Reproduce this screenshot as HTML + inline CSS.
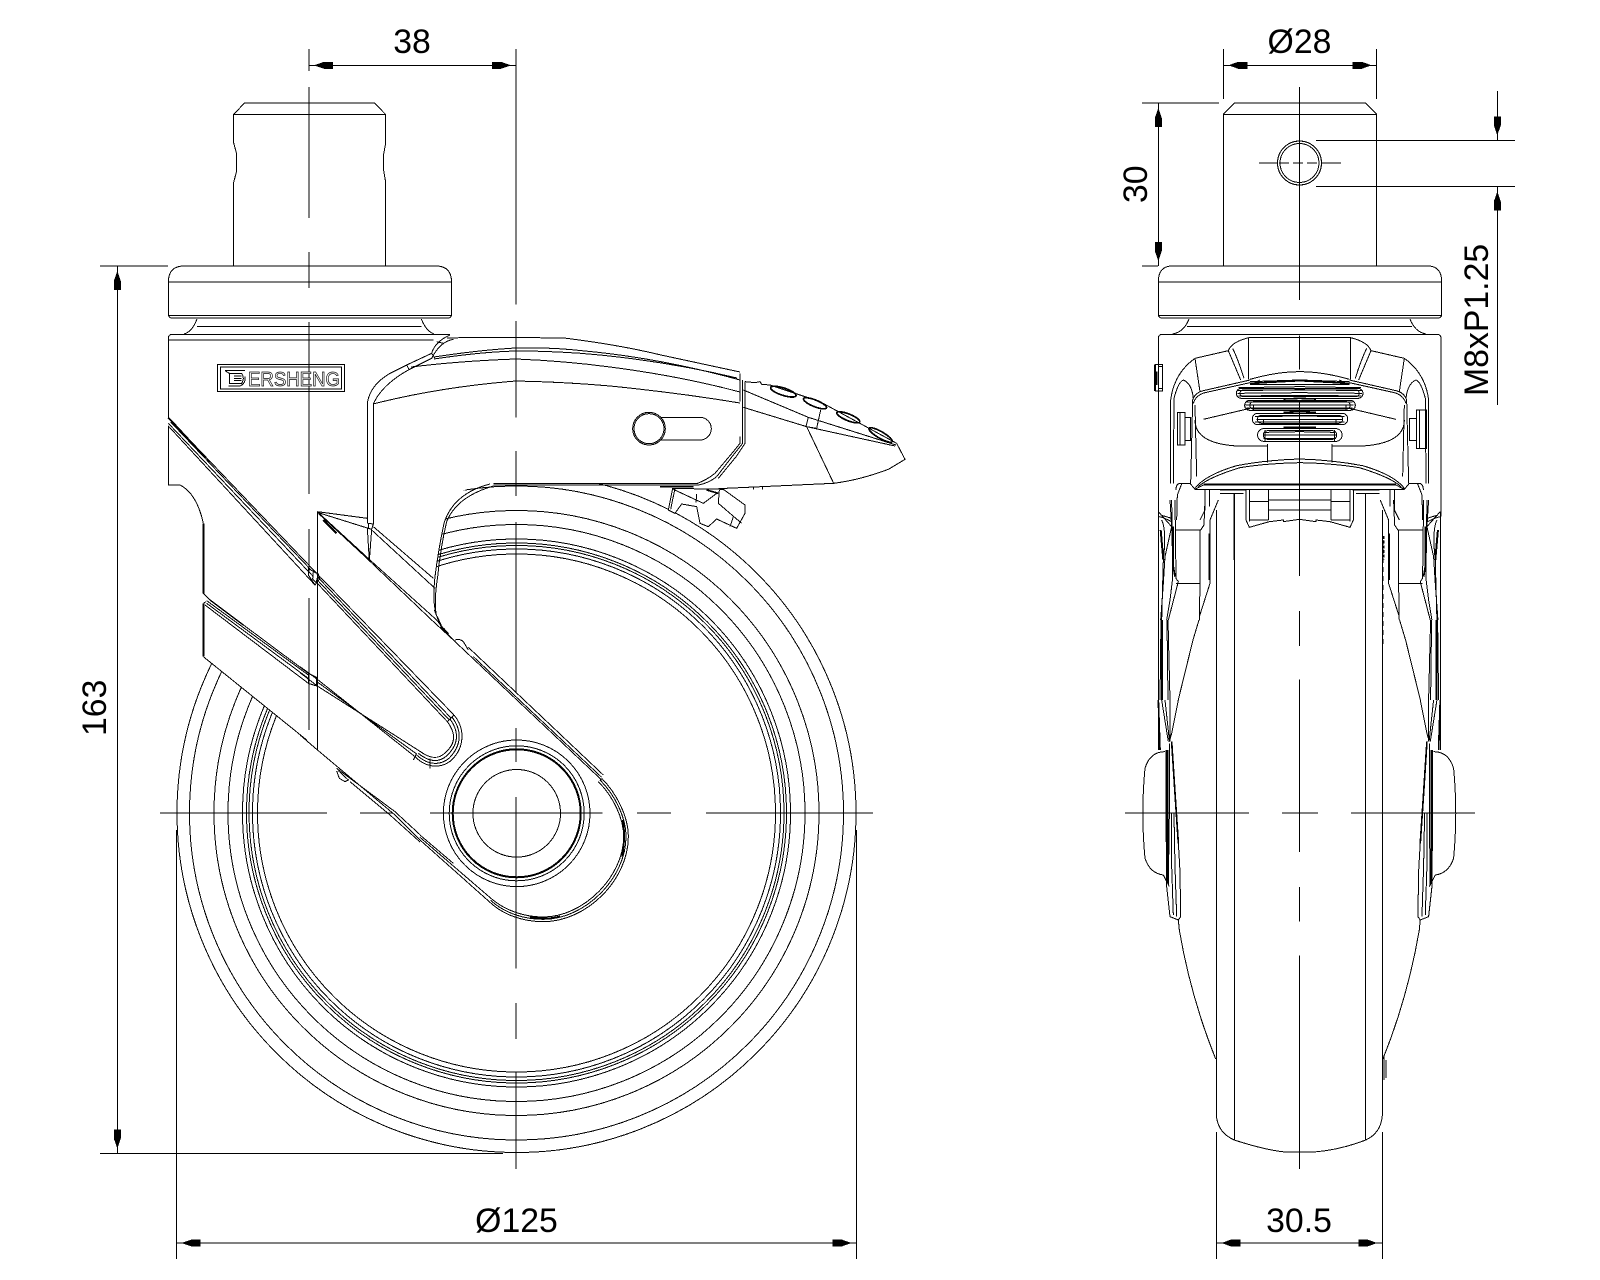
<!DOCTYPE html>
<html><head><meta charset="utf-8"><style>
html,body{margin:0;padding:0;background:#fff}
svg{display:block}
path,line,circle,rect,ellipse{fill:none;stroke:#000;stroke-width:1}
.w{fill:#fff}
text{font-family:"Liberation Sans",sans-serif;font-size:33.8px;fill:#000;stroke:none}
.z path,.z rect,.z ellipse,.z line,.z circle{stroke-width:3}
</style></head><body>
<svg width="1600" height="1280" viewBox="0 0 1600 1280" xmlns="http://www.w3.org/2000/svg" shape-rendering="crispEdges">
<defs><polygon id="a" points="5,0 15,-3.5 24,-3.5 24,3.5 15,3.5" fill="#000"/></defs>
<rect x="0" y="0" width="1600" height="1280" style="fill:#fff;stroke:none"/>

<!-- LEFT VIEW wheel -->
<g>
<circle cx="516.5" cy="813" r="339.5"/><circle cx="516.5" cy="813" r="327"/><circle cx="516.5" cy="813" r="302.5"/><circle cx="516.5" cy="813" r="288.5"/><circle cx="516.5" cy="813" r="274"/><circle cx="516.5" cy="813" r="270"/><circle cx="516.5" cy="813" r="267.5"/><circle cx="516.5" cy="813" r="264"/><circle cx="516.5" cy="813" r="259"/>
</g>
<!-- left body white mask -->
<path class="w" style="stroke:none" d="M168,334 L451,334 L447,338 L564,338 L661,355 L740,372 L740,443 L715,477 L700,484 L493,484 L470,487 L453,497 L445,520 L437.7,560 L433.3,588 L436.7,613 L443.3,630 L453.3,640 L601.7,778.3 L620,800 L628.3,836.7 L616.7,876.7 L583.3,910 L543.3,921.7 L516.7,915 L491.7,898.3 L316.8,749.4 L203.3,656 L203.3,520 L180,485 L168,485 Z"/>

<!-- stem -->
<path d="M233.7,266 L233.7,182.4 L236.7,170.6 L236.7,154 L233.7,143 L233.7,114.5 L244.4,103 L374.5,103 L385.7,114.5 L385.7,143 L383.7,154 L383.7,170.6 L385.7,182.4 L385.7,266"/>
<path d="M233.7,114.5 L385.7,114.5"/>
<!-- flange -->
<path d="M168.4,282 Q168.4,266 184,266 L436,266 Q451.5,266 451.5,282 L451.5,314 Q451.5,318 448,318 L172,318 Q168.4,318 168.4,314 Z"/>
<path d="M168.4,282 L451.5,282 M168.4,315.5 L451.5,315.5"/>
<path d="M197,319 Q192,332 184,334 M421.4,319 Q426,331 434,334 M197,326.5 L421.4,326.5"/>

<!-- body zoom6 group -->
<g class="z" transform="translate(160 320) scale(.33333)">
<path d="M25,295 L25,55 Q25,43 37,43 L870,43"/>
<path d="M25,60 L820,60"/>
<rect x="172" y="133" width="382" height="82"/><rect x="182" y="141" width="362" height="66"/>
<path d="M195,152 L255,152 M208,160 L245,160 Q255,175 245,190 L208,190 Z M195,152 L208,160 M205,198 L240,198 Q258,190 255,170 M222,175 L245,175 M222,168 L245,168 M222,182 L245,182"/>
<!-- pedal left edges -->
<path d="M622,610 L622,250 Q630,195 690,160 L740,135 L815,100 Q825,65 870,45"/>
<path d="M640,610 L640,252 Q665,195 745,150 L815,115 Q840,65 880,58"/>
<path d="M815,100 L825,115 M830,65 L850,70 M740,135 L748,150"/>
<!-- lower wedge -->
<path d="M472,575 L472,720 M472,575 L622,595 M475,578 L625,625"/>
<path d="M625,610 L640,612 L635,628 L625,625 Z"/>
<path d="M622,625 L628,722 L635,628 M640,620 L820,775 M635,630 L825,805"/>
<path d="M472,575 L630,720 L830,900 M475,580 L610,705 L815,900"/>
<path d="M490,600 L530,640" style="stroke-width:6"/>
<!-- inner bracket opening -->
<path d="M835,900 Q815,860 825,770 Q835,690 852,610 Q880,520 990,492"/>
<path d="M828,880 Q822,840 833,770 Q842,680 860,605 Q890,530 1000,498"/>
<path d="M25,293 L470,760 M25,318 L465,795 M25,310 L460,770 M32,306 L455,752"/>
<path d="M30,300 L150,425" style="stroke-width:4"/>
<path d="M445,745 L470,760 L480,775 L465,795 L445,765 Z"/>
<path d="M25,293 L35,303 L120,395" style="stroke-width:5"/>
<!-- left cut -->
<path d="M25,318 L25,495 L60,495 Q110,520 130,610"/>
<path d="M130,610 L130,820 M130,850 L130,900" style="stroke-width:6"/>
</g>

<!-- lower band start, zoom2 coordinates -->
<g class="z" transform="translate(160 560) scale(.33333)">
<path d="M130,100 L150,120 L445,340 M130,130 L138,125 M135,135 L445,370 M140,122 L445,345 M140,130 L445,355 M130,290 L440,540" />
<path d="M130,290 L130,130 M130,0 L130,100" style="stroke-width:6"/>
<path d="M150,120 L250,195" style="stroke-width:4"/>
<path d="M445,340 L470,352 L470,378 L445,370 Z"/>
</g>

<!-- fork zoom1 coordinates -->
<g class="z" transform="translate(300 560) scale(.33333)">
<path d="M52,0 L52,568"/>
<path d="M52,42 L462,465 M52,50 L452,473 M52,70 L442,485 M52,60 L447,479"/>
<path d="M462,465 C495,505 495,560 455,600 C430,622 385,630 345,590 L52,358"/>
<path d="M456,471 C486,510 486,555 448,594 C425,614 388,620 350,585"/>
<path d="M450,477 C478,515 476,552 442,586 C420,606 392,610 355,580"/>
<path d="M442,485 C468,520 468,550 436,578 C418,596 395,600 360,574 L52,378"/>
<path d="M52,366 L350,582"/>
<path d="M340,600 L350,580 M390,595 L390,625 M462,465 L442,485"/>
<path d="M0,320 L52,358 M0,338 L52,378"/>
<path d="M40,35 L55,42 L48,68 L38,58 Z"/>
<!-- lower edge -->
<path d="M0,525 L50,568 L285,765 M110,625 L285,755 M150,665 L270,765"/>
<path d="M110,633 L118,655 L135,665 L145,660 L115,632"/>
<!-- opening bottom -->
<path d="M412,170 L430,210 L460,240 M403,150 L425,205 M410,180 L430,205 M395,180 L460,240"/>
<!-- top edge -->
<path d="M460,240 L905,660 M505,262 L910,645 M520,290 L905,652"/>
<path d="M465,240 Q480,235 490,245 L505,270"/>
<path d="M430,205 L445,222" style="stroke-width:5"/>
</g>

<!-- lower edge bridge -->
<path d="M395,815 L420,840 M395,811.7 L420,834.7 M390,815 L420,842"/>

<!-- head of fork, zoom5 coordinates -->
<g class="z" transform="translate(420 740) scale(.33333)">
<path d="M0,300 L210,487 C250,525 310,545 370,545 C500,545 625,420 625,290 C625,230 590,160 545,115"/>
<path d="M212,481 C252,518 310,538 370,538 C495,538 618,415 618,290 C618,232 585,165 540,120"/>
<path d="M0,292 L214,476 C254,510 310,531 370,531 C490,531 611,410 611,290 C611,235 580,170 535,125"/>
<path d="M0,285 L100,370"/>
<path d="M330,530 Q370,542 420,530" style="stroke-width:6"/>
<path d="M608,240 Q618,290 606,350" style="stroke-width:5"/>
</g>
<!-- hub -->
<circle cx="516.7" cy="813.3" r="73.3"/><circle cx="516.7" cy="813.3" r="67.5"/><circle cx="516.7" cy="813.3" r="64" style="stroke-width:2"/><circle cx="516.7" cy="813.3" r="43.8"/>

<!-- pedal top lines -->
<path d="M447,338 Q490,337 516,337.5 L564,338 Q620,345 661,355 L740,372"/>
<path d="M434,357 Q480,350 516,348 Q550,347 585,351 Q660,358 740,380"/>
<path d="M434,359 Q480,352 516,351 Q560,351 600,355 Q670,362 737,378"/>
<path d="M411,367 Q460,361 516,359 Q565,361 610,367 Q680,376 740,392"/>
<path d="M373,404 Q440,387 516,381 Q565,382 610,386 Q680,393 740,403"/>

<!-- pedal right zoom7 -->
<g class="z" transform="translate(560 330) scale(.33333)">
<path class="w" style="stroke:none" d="M545,150 L630,165 L1010,340 L1035,388 L960,430 L820,460 L475,478 L520,375 L548,340 Z"/>
<path d="M540,130 L540,215"/>
<path d="M548,150 L548,340 L520,375 L470,440 Q445,460 415,465 L-200,465"/>
<path d="M555,155 L555,340 L530,378 L475,445"/>
<path d="M-200,461 L410,461 Q440,450 465,430 L520,365 L540,340 L540,320"/>
<path d="M555,155 L585,158 L600,155 L605,163 L630,165 L705,190 L780,215 L1010,340 L1035,388 L985,418 Q900,450 820,460 L475,476"/>
<path d="M550,180 L745,262 L1008,345 M550,232 L740,290 L1005,348"/>
<path d="M745,262 L738,290 L770,295 L782,240 M740,290 L822,462 M580,470 L580,478 M608,470 L608,478"/>
<ellipse cx="670" cy="185" rx="40" ry="11" transform="rotate(18 670 185)" style="stroke-width:5"/>
<ellipse cx="765" cy="220" rx="37" ry="10" transform="rotate(22 765 220)" style="stroke-width:5"/>
<ellipse cx="865" cy="262" rx="37" ry="10" transform="rotate(22 865 262)" style="stroke-width:5"/>
<ellipse cx="962" cy="315" rx="40" ry="10" transform="rotate(30 962 315)" style="stroke-width:5"/>
<!-- slot -->
<path d="M270,262 L420,262 A34,34 0 0 1 420,330 L290,330"/>
<circle class="w" cx="267" cy="296" r="49"/><circle cx="267" cy="296" r="45"/>
<!-- catch -->
<path class="w" d="M338,475 L325,540 L345,550 L365,522 L410,530 L420,580 L445,590 L470,567 L530,595 L555,550 L555,525 L490,478 Z"/>
<path d="M345,475 L332,538 M340,478 L430,520 L470,490 M410,492 L408,518 M478,480 L475,520 L545,580 M520,560 L510,590" />
<path d="M300,470 L400,470 M440,480 L475,490" style="stroke-width:5"/>
</g>

<!-- RIGHT VIEW -->
<path d="M1223.3,266 L1223.3,114.3 L1234.3,103 L1365.7,103 L1376.7,114.3 L1376.7,266 M1223.3,114.3 L1376.7,114.3"/>
<circle cx="1299.5" cy="163" r="22"/><circle cx="1299.5" cy="163" r="19.5"/>
<path d="M1158.3,282 Q1158.3,266 1172,266 L1428,266 Q1441.7,266 1441.7,282 L1441.7,314 Q1441.7,318 1438,318 L1162,318 Q1158.3,318 1158.3,314 Z M1158.3,282 L1441.7,282 M1158.3,315.5 L1441.7,315.5"/>
<path d="M1189,319 Q1184,332 1172.7,334 M1410,319 Q1415,332 1426,334 M1187,326.5 L1412,326.5"/>

<g class="z" transform="translate(1150 320) scale(.33333)">
 <g id="h">
  <path d="M25,590 L25,55 Q25,43 37,43 L449,43"/>
  <path d="M62,490 L62,240 Q72,160 135,115 L235,92 Q245,65 300,52 L449,52"/>
  <path d="M70,490 L72,235 Q85,185 100,180 Q125,190 130,235"/>
  <path d="M135,115 L150,215 M235,92 L272,180 M248,85 Q265,120 282,175 M296,52 L296,178"/>
  <path d="M128,240 Q135,218 160,212 L300,180 M130,250 Q138,225 165,218 L300,188"/>
  <path d="M300,178 Q380,155 449,155 M300,185 L449,180"/>
  <path d="M128,240 L122,490 M135,255 L140,470"/>
  <path d="M135,300 Q135,370 260,378 L352,378 M160,298 L300,265"/>
  <path d="M352,372 L352,428"/>
  <path d="M135,505 Q165,465 260,437 Q350,420 449,417 M145,500 Q175,472 270,443 Q350,430 449,428"/>
  <path d="M160,493 L449,493" style="stroke-width:6"/>
  <path d="M135,508 L160,495 M78,510 Q78,490 92,490 L120,490 L135,508 L449,508"/>
  <path d="M95,492 L82,525 L80,600 M165,508 L165,570 L150,600"/>
  <path d="M178,508 L178,560"/>
  <path d="M210,510 L290,510 M210,520 L280,520 M252,522 L252,720"/>
  <path d="M288,510 L288,600 L298,622 L358,605 L400,600 L400,605 L449,598"/>
  <path d="M298,510 L298,605 M355,510 L355,600 M355,540 L449,540 M355,570 L449,570 M298,545 L355,545 M298,600 L355,600"/>
  <path d="M25,590 Q35,590 65,605"/>
  <path d="M300,194 L449,194 M265,203 L449,200 M262,212 L449,209 M262,220 L449,218 M265,228 L449,226"/>
  <path d="M290,246 L449,246 M287,255 L449,255 M290,264 L449,264 M320,298 L449,298 M315,290 L449,288 M315,306 L449,306 M340,345 L449,345 M340,355 L449,355 M345,337 L449,335"/>
  <path d="M300,190 L449,182" style="stroke-width:5"/>
  <path d="M400,237 L449,235 M400,277 L449,275 M400,322 L449,322" style="stroke-width:5"/>
  <path d="M330,180 L310,190 L328,190"/>
  <path d="M340,300 L340,315 M345,330 L345,365 M310,255 L310,270"/>
 </g>
 <use href="#h" transform="translate(898 0) scale(-1 1)"/>
 <rect x="259" y="205" width="380" height="30" rx="15"/><rect x="270" y="210" width="358" height="20" rx="10"/>
 <rect x="284" y="241" width="332" height="30" rx="15"/><rect x="300" y="245" width="300" height="22" rx="10"/>
 <rect x="307" y="280" width="286" height="34" rx="16"/><rect x="322" y="286" width="256" height="24" rx="12"/>
 <rect x="323" y="326" width="253" height="38" rx="18"/><rect x="340" y="332" width="220" height="26" rx="12"/>
 <path d="M15,133 L38,133 L38,213 L15,213 M25,140 L38,140 M25,205 L38,205"/>
 <path d="M15,133 L15,213 M20,155 L20,195" style="stroke-width:6"/>
 <rect x="82" y="278" width="23" height="97"/><rect x="105" y="292" width="17" height="70"/>
 <rect x="778" y="295" width="22" height="67"/><rect x="800" y="270" width="30" height="115"/><path d="M808,270 L808,385"/>
 <path d="M90,278 L90,375"/>
 <path d="M700,648 L700,720" style="stroke-width:7;stroke-dasharray:9 5"/>
</g>

<!-- fork side bundles left (mirrored for right) -->
<g id="fb">
 <g class="z" transform="translate(1130 500) scale(.33333)">
  <path d="M85,35 L85,360 M85,35 L125,80 M92,45 L125,55 M95,60 Q110,90 100,180 L95,360 M120,0 L125,80 L105,170 L100,250 L92,360 M135,0 L138,235 L145,245 L115,360 M125,0 L128,235 L120,300 L110,360"/>
  <path d="M130,80 L130,200 L135,230" style="stroke-width:5"/>
  <path d="M92,90 L100,180" style="stroke-width:6"/>
  <path d="M138,90 L212,90 L222,75 L225,0 M138,250 L212,250 M210,90 L210,250 L208,360 M240,60 L265,0 M240,60 L240,250 L208,350"/>
  <path d="M238,100 L238,240" style="stroke-width:5"/>
 </g>
 <path d="M1161,620 L1160,700 M1167,620 L1168,700 M1168,620 L1170,700 M1199,620 L1193,640 L1178,701"/>
 <path d="M1162,620 L1162,700" style="stroke-width:2"/>
 <path d="M1158.3,620 L1158.3,750"/>
 <g class="z" transform="translate(1130 700) scale(.33333)">
  <path d="M85,0 L90,150" style="stroke-width:5"/>
  <path d="M95,0 L115,125 M105,0 L118,120 M120,0 L120,125 M145,0 L125,100 L118,125"/>
  <path d="M105,155 Q60,155 45,205 L42,240 Q35,340 42,440 L45,475 Q60,520 100,525"/>
  <path d="M108,150 L108,340 L110,560 L120,650 L145,660 L152,650 L150,515 L140,340 L125,125"/>
  <path d="M112,150 L112,340 L112,550" style="stroke-width:6"/>
  <path d="M125,125 L135,280 L145,430" style="stroke-width:5"/>
  <path d="M118,130 L118,340 L115,555 M125,340 L125,500 L130,645 M132,340 L135,500 L140,650 M100,525 L118,560 M145,660 L148,690"/>
 </g>
 <path d="M1179.3,930 C1187,975 1200,1020 1215.7,1059"/>
</g>
<use href="#fb" transform="translate(2598.6 0) scale(-1 1)"/>

<!-- wheel side -->
<path d="M1216.3,510 L1216.3,1115.5 Q1218,1133 1234.3,1140 Q1265,1150 1285,1152 L1314,1152 Q1340,1150 1365.7,1140 Q1381,1133 1382.3,1115.5 L1382.3,510"/>
<path d="M1234.3,494 L1234.3,1140 M1365.7,494 L1365.7,1140"/>
<path d="M1384,1055 L1384,1080 M1386,1060 L1386,1078"/>
<path d="M1383,540 L1383,646" style="stroke-dasharray:5 4"/>

<!-- centre lines -->
<path d="M309,49 L309,71 M309,87 L309,218 M309,252 L309,288 M309,322 L309,494 M309,529 L309,573 M309,598 L309,730"/>
<path d="M516,49 L516,304.5 M516,321 L516,417.5 M516,451 L516,496 M516,522 L516,693 M516,728 L516,762 M516,797 L516,968.6 M516,1003 L516,1039 M516,1072.6 L516,1169"/>
<path d="M160,813 L327,813 M360,813 L393,813 M430,813 L602.5,813 M637,813 L671,813 M706,813 L873,813"/>
<path d="M1299.5,87 L1299.5,300 M1299.5,335.5 L1299.5,369.4 M1299.5,402 L1299.5,576 M1299.5,611 L1299.5,646 M1299.5,679.6 L1299.5,852 M1299.5,887 L1299.5,921.6 M1299.5,955.5 L1299.5,1169"/>
<path d="M1125,813 L1249,813 M1282,813 L1318,813 M1351,813 L1475,813"/>
<path d="M1259,163 L1278,163 M1321,163 L1341,163" />
<path d="M1279,163 L1320,163" stroke-dasharray="10 4"/>

<!-- dimensions -->
<path d="M309,65.3 L516,65.3"/><use href="#a" transform="translate(309 65.3)"/><use href="#a" transform="translate(516 65.3) rotate(180)"/>
<path d="M1223.3,49 L1223.3,99 M1376.7,49 L1376.7,99 M1223.3,65.3 L1376.7,65.3"/><use href="#a" transform="translate(1223.3 65.3)"/><use href="#a" transform="translate(1376.7 65.3) rotate(180)"/>
<path d="M117.3,266 L117.3,1153.5 M100,266 L168,266 M100,1153.5 L503,1153.5"/><use href="#a" transform="translate(117.3 266) rotate(90)"/><use href="#a" transform="translate(117.3 1153.5) rotate(-90)"/>
<path d="M1158.3,103 L1158.3,266 M1142,103 L1219,103 M1142,266 L1158,266"/><use href="#a" transform="translate(1158.3 103) rotate(90)"/><use href="#a" transform="translate(1158.3 266) rotate(-90)"/>
<path d="M1316,140.4 L1515,140.4 M1316,186.5 L1515,186.5 M1497.3,91 L1497.3,140.4 M1497.3,186.5 L1497.3,405"/><use href="#a" transform="translate(1497.3 140.4) rotate(-90)"/><use href="#a" transform="translate(1497.3 186.5) rotate(90)"/>
<path d="M176.5,830 L176.5,1259 M856.6,830 L856.6,1259 M176.5,1243 L856.6,1243"/><use href="#a" transform="translate(176.5 1243)"/><use href="#a" transform="translate(856.6 1243) rotate(180)"/>
<path d="M1216.3,1132 L1216.3,1259 M1382.3,1132 L1382.3,1259 M1216.3,1243 L1382.3,1243"/><use href="#a" transform="translate(1216.3 1243)"/><use href="#a" transform="translate(1382.3 1243) rotate(180)"/>

<!-- text -->
<g shape-rendering="auto">
<text x="412" y="53" text-anchor="middle">38</text>
<text x="1299.5" y="53" text-anchor="middle">Ø28</text>
<text x="516.5" y="1232" text-anchor="middle">Ø125</text>
<text x="1299" y="1232" text-anchor="middle">30.5</text>
<text transform="translate(106 736) rotate(-90)">163</text>
<text transform="translate(1147 203) rotate(-90)">30</text>
<text transform="translate(1488 396) rotate(-90)">M8xP1.25</text>
<text x="248" y="386" textLength="92" lengthAdjust="spacingAndGlyphs" style="font-size:20px;fill:#fff;stroke:#000;stroke-width:.7">ERSHENG</text>
</g>
</svg>
</body></html>
